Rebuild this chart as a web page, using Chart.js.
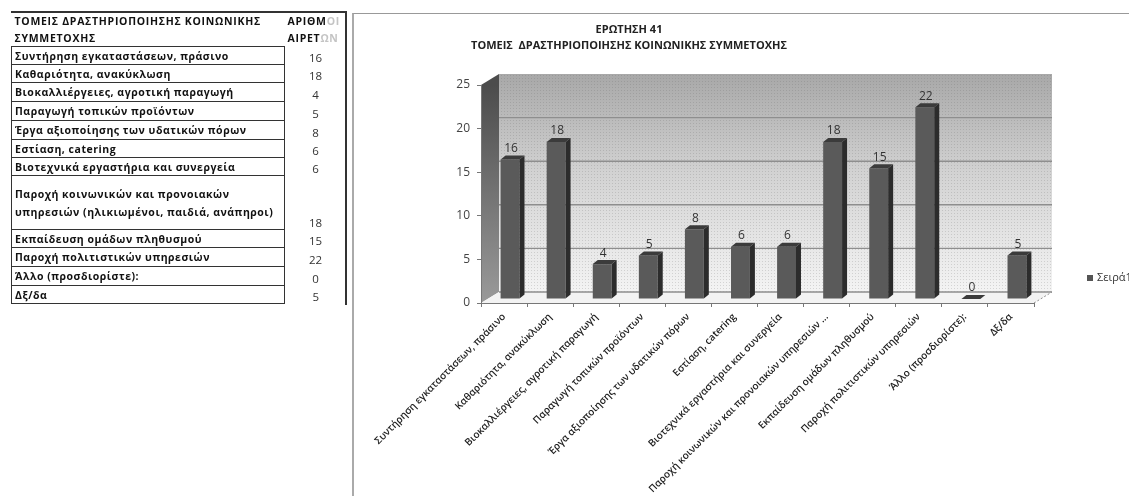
<!DOCTYPE html>
<html>
<head>
<meta charset="utf-8">
<script src="https://cdn.jsdelivr.net/npm/chart.js@4"></script>
<style>
  html, body { margin: 0; background: #fff; overflow: hidden; }
  #page { position: relative; width: 1129px; height: 496px; filter: blur(0.6px); overflow: hidden; }
  canvas { position: absolute; left: 0; top: 0; }
  #frame { position: absolute; left: 352px; top: 13px; width: 777px; height: 483px; border-left: 2px solid #aaa; border-top: 1px solid #999; box-sizing: border-box; }
  #outer { position: absolute; left: 11px; top: 11px; width: 336px; height: 294px; border-top: 2px solid #333; border-right: 2px solid #333; box-sizing: border-box; }
  table { position: absolute; left: 11px; top: 12px; width: 336px; border-collapse: collapse; table-layout: fixed; font: 700 10.5px "Open Sans", sans-serif; color: #111; }
  th, td { padding: 0 0 0 3px; white-space: nowrap; overflow: hidden; }
  th { text-align: left; font-weight: 700; height: 17px; letter-spacing: 0.72px; }
  td.name { border: 1.5px solid #333; letter-spacing: 0.52px; }
  td.val { text-align: center; padding-left: 0; vertical-align: bottom; font-weight: 400; font-size: 11.5px; color: #333; }
  .fade { color: #c4c4c4; }
</style>
</head>
<body>
<div id="page">
  <canvas id="chart" width="1129" height="496"></canvas>
  <div id="frame"></div>
  <div id="outer"></div>
  <table id="tbl"></table>
</div>
<script>
const categories = [
  'Συντήρηση εγκαταστάσεων, πράσινο',
  'Καθαριότητα, ανακύκλωση',
  'Βιοκαλλιέργειες, αγροτική παραγωγή',
  'Παραγωγή τοπικών προϊόντων',
  'Έργα αξιοποίησης των υδατικών πόρων',
  'Εστίαση, catering',
  'Βιοτεχνικά εργαστήρια και συνεργεία',
  'Παροχή κοινωνικών και προνοιακών υπηρεσιών ...',
  'Εκπαίδευση ομάδων πληθυσμού',
  'Παροχή πολιτιστικών υπηρεσιών',
  'Άλλο (προσδιορίστε):',
  'Δξ/δα'
];
const values = [16, 18, 4, 5, 8, 6, 6, 18, 15, 22, 0, 5];
const titleLines = ['ΕΡΩΤΗΣΗ 41', 'ΤΟΜΕΙΣ  ΔΡΑΣΤΗΡΙΟΠΟΙΗΣΗΣ ΚΟΙΝΩΝΙΚΗΣ ΣΥΜΜΕΤΟΧΗΣ'];
const seriesName = 'Σειρά1';
const tableHeader = ['ΤΟΜΕΙΣ  ΔΡΑΣΤΗΡΙΟΠΟΙΗΣΗΣ ΚΟΙΝΩΝΙΚΗΣ', 'ΣΥΜΜΕΤΟΧΗΣ'];
const tableRow8 = ['Παροχή κοινωνικών και προνοιακών', 'υπηρεσιών (ηλικιωμένοι, παιδιά, ανάπηροι)'];

// table on the left
const rowH = [18, 18, 19, 19, 19, 18, 18, 54, 18, 19, 19, 18];
let html = `<colgroup><col style="width:273px"><col></colgroup>
  <tr><th>${tableHeader[0]}</th><th>ΑΡΙΘΜ<span class="fade">ΟΙ</span></th></tr>
  <tr><th>${tableHeader[1]}</th><th>ΑΙΡΕΤ<span class="fade">ΩΝ</span></th></tr>`;
categories.forEach((c, i) => {
  const name = i === 7 ? `${tableRow8[0]}<br>${tableRow8[1]}` : c;
  html += `<tr style="height:${rowH[i]}px"><td class="name" ${i === 7 ? 'style="line-height:18px"' : ''}>${name}</td><td class="val">${values[i]}</td></tr>`;
});
document.getElementById('tbl').innerHTML = html;

const WALL_DX = 18, WALL_DY = -11;   // back wall depth
const BAR_DX = 6, BAR_DY = -4;       // bars stand a bit inside the floor
const SIDE_DX = 5, SIDE_DY = -4;     // bar depth

function dots(alpha) {
  const c = document.createElement('canvas');
  c.width = c.height = 3;
  const g = c.getContext('2d');
  g.fillStyle = `rgba(90,90,90,${alpha})`;
  g.fillRect(0, 0, 1, 1);
  return g.createPattern(c, 'repeat');
}

function poly(ctx, pts, fill) {
  ctx.beginPath();
  pts.forEach((p, i) => i ? ctx.lineTo(p[0], p[1]) : ctx.moveTo(p[0], p[1]));
  ctx.closePath();
  ctx.fillStyle = fill;
  ctx.fill();
}

const box3d = {
  id: 'box3d',
  beforeDraw(chart) {
    const { ctx, chartArea: a, scales: { y } } = chart;
    ctx.save();
    const L = a.left, R = a.right, T = a.top, B = a.bottom;
    // back wall
    const wall = ctx.createLinearGradient(0, T + WALL_DY, 0, B + WALL_DY);
    wall.addColorStop(0, '#a8a8a8');
    wall.addColorStop(0.45, '#d2d2d2');
    wall.addColorStop(1, '#f4f4f4');
    const wallPts = [[L + WALL_DX, T + WALL_DY], [R + WALL_DX, T + WALL_DY], [R + WALL_DX, B + WALL_DY], [L + WALL_DX, B + WALL_DY]];
    poly(ctx, wallPts, wall);
    poly(ctx, wallPts, dots(0.2));
    // side wall
    const side = ctx.createLinearGradient(0, T, 0, B);
    side.addColorStop(0, '#4c4c4c');
    side.addColorStop(1, '#9a9a9a');
    poly(ctx, [[L, T], [L + WALL_DX, T + WALL_DY], [L + WALL_DX, B + WALL_DY], [L, B]], side);
    // floor
    poly(ctx, [[L, B], [L + WALL_DX, B + WALL_DY], [R + WALL_DX, B + WALL_DY], [R, B]], '#f3f3f3');
    // gridlines on the wall
    ctx.strokeStyle = '#8e8e8e';
    ctx.lineWidth = 1.4;
    y.ticks.forEach(t => {
      if (t.value === 25) return;
      const py = y.getPixelForValue(t.value) + WALL_DY;
      ctx.beginPath();
      ctx.moveTo(L + WALL_DX, py);
      ctx.lineTo(R + WALL_DX, py);
      ctx.stroke();
    });
    // right floor edge
    ctx.setLineDash([2, 2]);
    ctx.lineWidth = 1;
    ctx.beginPath();
    ctx.moveTo(R, B);
    ctx.lineTo(R + WALL_DX, B + WALL_DY);
    ctx.stroke();
    ctx.restore();
  },
  beforeDatasetsDraw(chart) {
    chart.ctx.save();
    chart.ctx.translate(BAR_DX, BAR_DY);
  },
  afterDatasetsDraw(chart) {
    const ctx = chart.ctx;
    chart.getDatasetMeta(0).data.forEach((bar, i) => {
      const l = bar.x - bar.width / 2, r = bar.x + bar.width / 2;
      poly(ctx, [[l, bar.y], [l + SIDE_DX, bar.y + SIDE_DY], [r + SIDE_DX, bar.y + SIDE_DY], [r, bar.y]], '#3b3b3b');
      poly(ctx, [[r, bar.y], [r + SIDE_DX, bar.y + SIDE_DY], [r + SIDE_DX, bar.base + SIDE_DY], [r, bar.base]], '#2c2c2c');
      ctx.fillStyle = '#333';
      ctx.font = '12px "Open Sans", sans-serif';
      ctx.textAlign = 'center';
      ctx.textBaseline = 'bottom';
      ctx.fillText(values[i], bar.x + 1, bar.y - 5);
    });
    ctx.restore();
  },
  afterDraw(chart) {
    const ctx = chart.ctx;
    ctx.save();
    // title
    ctx.fillStyle = '#222';
    ctx.font = 'bold 11px "Open Sans", sans-serif';
    ctx.textAlign = 'center';
    ctx.textBaseline = 'middle';
    titleLines.forEach((t, i) => ctx.fillText(t, 629, 30 + i * 16));
    // legend
    ctx.fillStyle = '#555';
    ctx.fillRect(1087, 275, 6, 6);
    ctx.fillStyle = '#333';
    ctx.font = '11px "Open Sans", sans-serif';
    ctx.textAlign = 'left';
    ctx.fillText(seriesName, 1097, 278);
    ctx.restore();
  }
};

new Chart(document.getElementById('chart'), {
  type: 'bar',
  data: {
    labels: categories,
    datasets: [{
      label: seriesName,
      data: values,
      backgroundColor: '#5a5a5a',
      barPercentage: 0.41,
      categoryPercentage: 1,
      clip: false,
    }]
  },
  options: {
    responsive: false,
    animation: false,
    layout: { padding: { left: 441, top: 85, right: 95, bottom: 0 } },
    plugins: { legend: { display: false }, title: { display: false }, tooltip: { enabled: false } },
    scales: {
      x: {
        afterFit: s => { s.height = 193; },
        grid: { drawOnChartArea: false, color: '#777', tickLength: 4 },
        border: { color: '#777', dash: [1, 1] },
        ticks: { autoSkip: false, minRotation: 45, maxRotation: 45, padding: 4, color: '#222', font: { family: '"Open Sans", sans-serif', size: 10, weight: '600' } }
      },
      y: {
        min: 0,
        max: 25,
        afterFit: s => { s.width = 40; },
        grid: { drawOnChartArea: false, color: '#777', tickLength: 4 },
        border: { color: '#777' },
        ticks: { stepSize: 5, padding: 7, color: '#444', font: { family: '"Open Sans", sans-serif', size: 12 } }
      }
    }
  },
  plugins: [box3d]
});
</script>
</body>
</html>
